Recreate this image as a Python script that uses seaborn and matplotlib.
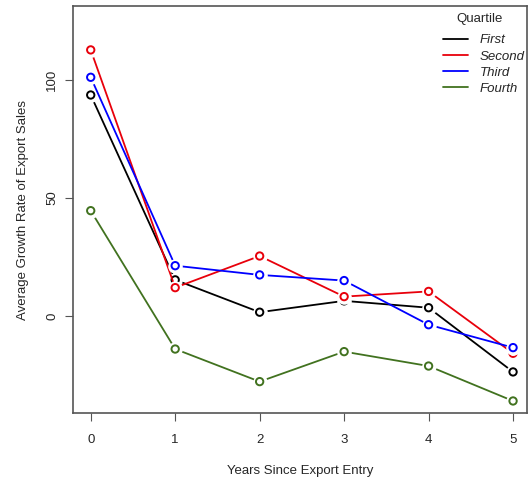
import matplotlib
matplotlib.use("Agg")
import matplotlib.pyplot as plt
import seaborn as sns
import pandas as pd
from matplotlib.lines import Line2D

sns.set_style("white")
plt.rcParams['font.family'] = ['Liberation Sans', 'DejaVu Sans']

years = [0, 1, 2, 3, 4, 5]
quartiles = ["First", "Second", "Third", "Fourth"]
first = [93.6, 15.3, 1.6, 6.4, 3.5, -23.7]
second = [112.7, 12.0, 25.4, 8.2, 10.4, -15.8]
third = [101.1, 21.3, 17.4, 15.0, -3.7, -13.4]
fourth = [44.6, -14.0, -27.8, -15.1, -21.2, -36.0]
colors = ["#000000", "#e8000b", "#0000ff", "#41721f"]

df = pd.DataFrame({
    "Years": years * 4,
    "Growth": first + second + third + fourth,
    "Quartile": [q for q in quartiles for _ in years],
})

fig = plt.figure(figsize=(5.29, 4.83), dpi=100)
ax = fig.add_axes([0.1386, 0.1449, 0.8584, 0.8427])

z = 2
for q, c in zip(quartiles, colors):
    sub = df[df["Quartile"] == q]
    sns.lineplot(data=sub, x="Years", y="Growth", color=c, lw=1.3, ax=ax,
                 zorder=z, legend=False)
    sns.scatterplot(data=sub, x="Years", y="Growth", color="white", s=110,
                    edgecolor="white", linewidth=0, ax=ax, zorder=z + 0.5, legend=False)
    sns.scatterplot(data=sub, x="Years", y="Growth", facecolor="none", edgecolor=c,
                    s=28, linewidth=1.4, marker="o", ax=ax, zorder=z + 0.8, legend=False)
    z += 1

ax.set_xlim(-0.206, 5.17)
ax.set_ylim(-41.1, 131.3)
ax.set_xticks(years)
ax.set_xticklabels([str(y) for y in years])
ax.set_yticks([0, 50, 100])
ax.set_yticklabels(["0", "50", "100"], rotation=90, va="center")
for s in ax.spines.values():
    s.set_color("#555555")
    s.set_linewidth(1.2)
ax.tick_params(axis="x", direction="out", length=6, width=0.8, color="#555555",
               labelsize=9.5, pad=9, bottom=True)
ax.tick_params(axis="y", direction="out", length=6, width=0.8, color="#555555",
               labelsize=9.5, pad=5, left=True)
ax.set_xlabel("Years Since Export Entry", fontsize=9.5, labelpad=14)
ax.set_ylabel("Average Growth Rate of Export Sales", fontsize=9.5, labelpad=12)

handles = [Line2D([0], [0], color=c, lw=1.3) for c in colors]
leg = ax.legend(handles, quartiles, frameon=False,
                loc="upper right", bbox_to_anchor=(1.02, 0.96),
                prop={"style": "italic", "size": 9.5},
                handlelength=1.9, labelspacing=0.3, handletextpad=0.9)
ax.text(0.895, 0.968, "Quartile", transform=ax.transAxes, ha="center",
        va="center", fontsize=9.5)

fig.savefig("out.png", dpi=100)
